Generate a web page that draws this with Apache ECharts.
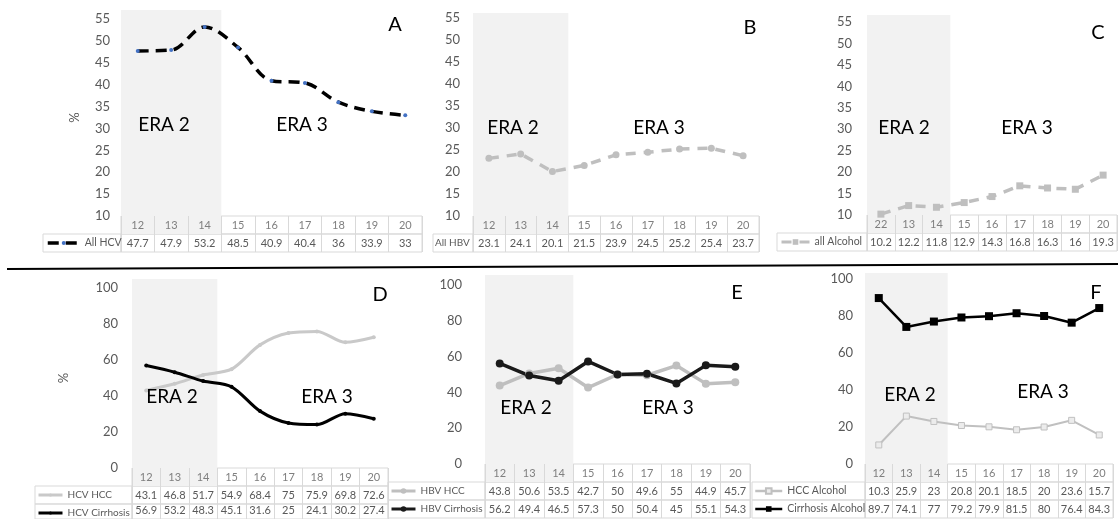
<!DOCTYPE html>
<html>
<head>
<meta charset="utf-8">
<script src="https://cdn.jsdelivr.net/npm/echarts@6/dist/echarts.min.js"></script>
<style>
  html, body { margin: 0; padding: 0; background: #fff; }
  #main { width: 1118px; height: 519px; }
</style>
</head>
<body>
<div id="main"></div>
<script>
  // years on the x axis (panel C has "22" printed in its header)
  var years = ['12', '13', '14', '15', '16', '17', '18', '19', '20'];
  var yearsC = ['22', '13', '14', '15', '16', '17', '18', '19', '20'];

  var allHCV = [47.7, 47.9, 53.2, 48.5, 40.9, 40.4, 36, 33.9, 33];
  var allHBV = [23.1, 24.1, 20.1, 21.5, 23.9, 24.5, 25.2, 25.4, 23.7];
  var allAlcohol = [10.2, 12.2, 11.8, 12.9, 14.3, 16.8, 16.3, 16, 19.3];
  var hcvHCC = [43.1, 46.8, 51.7, 54.9, 68.4, 75, 75.9, 69.8, 72.6];
  var hcvCirrhosis = [56.9, 53.2, 48.3, 45.1, 31.6, 25, 24.1, 30.2, 27.4];
  var hbvHCC = [43.8, 50.6, 53.5, 42.7, 50, 49.6, 55, 44.9, 45.7];
  var hbvCirrhosis = [56.2, 49.4, 46.5, 57.3, 50, 50.4, 45, 55.1, 54.3];
  var hccAlcohol = [10.3, 25.9, 23, 20.8, 20.1, 18.5, 20, 23.6, 15.7];
  var cirrhosisAlcohol = [89.7, 74.1, 77, 79.2, 79.9, 81.5, 80, 76.4, 84.3];

  var FONT = 'Lato';
  var BORDER = '#d9d9d9';
  var SHADE = '#f2f2f2';

  var grids = [], xAxes = [], yAxes = [], series = [], legends = [];

  function addGrid(g) {
    grids.push(g);
    return grids.length - 1;
  }

  function hiddenAxes(gi) {
    xAxes.push({ type: 'value', gridIndex: gi, show: false });
    yAxes.push({ type: 'value', gridIndex: gi, show: false });
  }

  function tableRow(p, top, h, labels, color) {
    var gi = addGrid({ left: p.x0, top: top, width: p.x1 - p.x0, height: h, show: true, borderColor: BORDER, borderWidth: 1 });
    xAxes.push({
      type: 'category', gridIndex: gi, data: p.cats,
      axisLine: { show: false }, axisTick: { show: false },
      splitLine: { show: true, interval: 0, lineStyle: { color: BORDER } },
      axisLabel: {
        inside: true, interval: 0, margin: h / 2, verticalAlign: 'middle',
        color: color, fontSize: 11, fontFamily: FONT,
        formatter: function (v, i) { return labels[i]; }
      }
    });
    yAxes.push({ type: 'value', gridIndex: gi, show: false });
  }

  function addPanel(p) {
    var shade = p.cats.map(function (c, i) { return i < 3 ? SHADE : 'rgba(0,0,0,0)'; });
    var headTop = p.yBot;
    var headBot = headTop + p.rowH;

    // era 2 shading behind plot and header cells
    var bg = addGrid({ left: p.x0, top: p.shadeTop, width: p.x1 - p.x0, height: headBot - p.shadeTop });
    xAxes.push({
      type: 'category', gridIndex: bg, data: p.cats, show: true,
      axisLine: { show: false }, axisTick: { show: false }, axisLabel: { show: false },
      splitArea: { show: true, interval: 0, areaStyle: { color: shade } }
    });
    yAxes.push({ type: 'value', gridIndex: bg, show: false });

    // plot area
    var pg = addGrid({ left: p.x0, top: p.yTop, width: p.x1 - p.x0, height: p.yBot - p.yTop });
    var xi = xAxes.length;
    xAxes.push({ type: 'category', gridIndex: pg, data: p.cats, boundaryGap: true, show: false });
    yAxes.push({
      type: 'value', gridIndex: pg, min: p.min, max: p.max, interval: p.interval,
      axisLine: { show: false }, axisTick: { show: false }, splitLine: { show: false },
      axisLabel: { color: '#595959', fontSize: 13, fontFamily: FONT, margin: p.margin },
      name: p.yName || '', nameLocation: 'middle', nameGap: p.nameGap || 0,
      nameTextStyle: { color: '#595959', fontSize: 13, fontFamily: FONT }
    });
    p.series.forEach(function (s) {
      s.type = 'line';
      s.xAxisIndex = xi;
      s.yAxisIndex = xi;
      s.z = 5;
      series.push(s);
    });

    // table: header row + one row per series
    tableRow(p, headTop, p.rowH, p.cats, '#7f7f7f');
    p.series.forEach(function (s, k) {
      var top = headBot + k * p.rowH;
      tableRow(p, top, p.rowH, s.data.map(String), '#595959');
      var lg = addGrid({ left: p.labelX, top: top, width: p.x0 - p.labelX, height: p.rowH, show: true, borderColor: BORDER, borderWidth: 1 });
      hiddenAxes(lg);
    });

    legends.push({
      data: p.series.map(function (s) { return s.name; }),
      orient: 'vertical', left: p.legendX, top: headBot + 3,
      itemWidth: p.iconW, itemHeight: p.iconH, itemGap: p.rowH - 12, padding: 0,
      icon: p.icon, selectedMode: false,
      lineStyle: { width: p.iconLine || 3 },
      textStyle: { color: '#595959', fontSize: p.legendFont || 10.5, fontFamily: FONT, lineHeight: 12 }
    });
  }

  addPanel({
    x0: 121, x1: 422, yTop: 19, yBot: 216, shadeTop: 10, labelX: 43, rowH: 18, margin: 11,
    min: 10, max: 55, interval: 5, cats: years, legendX: 46, iconW: 32, iconH: 5, iconLine: 3.5,
    yName: '%', nameGap: 40,
    series: [{
      name: 'All HCV', data: allHCV, smooth: 0.35, symbol: 'circle', symbolSize: 4,
      lineStyle: { color: '#000', width: 3.5, type: [11, 7] }, itemStyle: { color: '#4472c4' }
    }]
  });
  addPanel({
    x0: 473, x1: 759, yTop: 18, yBot: 216, shadeTop: 13, labelX: 433, rowH: 18, margin: 13,
    min: 10, max: 55, interval: 5, cats: years, legendX: 430, iconW: 0, iconH: 0, icon: 'none', legendFont: 10,
    series: [{
      name: 'All HBV', data: allHBV, symbol: 'circle', symbolSize: 7,
      lineStyle: { color: '#bfbfbf', width: 3.5, type: [10, 8] }, itemStyle: { color: '#bfbfbf' }
    }]
  });
  addPanel({
    x0: 867, x1: 1117, yTop: 22, yBot: 215, shadeTop: 15, labelX: 777, rowH: 18, margin: 15,
    min: 10, max: 55, interval: 5, cats: yearsC, legendX: 780, iconW: 28, iconH: 7, iconLine: 3,
    series: [{
      name: 'all Alcohol', data: allAlcohol, symbol: 'rect', symbolSize: 7,
      lineStyle: { color: '#bfbfbf', width: 3.5, type: [10, 8] }, itemStyle: { color: '#bfbfbf' }
    }]
  });
  addPanel({
    x0: 132, x1: 388, yTop: 288, yBot: 468, shadeTop: 279, labelX: 35, rowH: 18, margin: 14,
    min: 0, max: 100, interval: 20, cats: years, legendX: 37, iconW: 24, iconH: 4, iconLine: 3, legendFont: 10,
    yName: '%', nameGap: 62,
    series: [{
      name: 'HCV HCC', data: hcvHCC, smooth: 0.3, symbol: 'circle', symbolSize: 4,
      lineStyle: { color: '#c9c9c9', width: 3 }, itemStyle: { color: '#c9c9c9' }
    }, {
      name: 'HCV Cirrhosis', data: hcvCirrhosis, smooth: 0.3, symbol: 'circle', symbolSize: 4,
      lineStyle: { color: '#000', width: 3 }, itemStyle: { color: '#000' }
    }]
  });
  addPanel({
    x0: 485, x1: 750, yTop: 285, yBot: 464, shadeTop: 275, labelX: 388, rowH: 18, margin: 23,
    min: 0, max: 100, interval: 20, cats: years, legendX: 390, iconW: 24, iconH: 7, iconLine: 3, legendFont: 10,
    series: [{
      name: 'HBV HCC', data: hbvHCC, symbol: 'circle', symbolSize: 8,
      lineStyle: { color: '#bfbfbf', width: 3.5 }, itemStyle: { color: '#bfbfbf' }
    }, {
      name: 'HBV Cirrhosis', data: hbvCirrhosis, symbol: 'circle', symbolSize: 8,
      lineStyle: { color: '#1a1a1a', width: 3.5 }, itemStyle: { color: '#1a1a1a' }
    }]
  });
  addPanel({
    x0: 865, x1: 1113, yTop: 279, yBot: 464, shadeTop: 273, labelX: 752, rowH: 18, margin: 12,
    min: 0, max: 100, interval: 20, cats: years, legendX: 754, iconW: 27, iconH: 7, iconLine: 2.5,
    series: [{
      name: 'HCC Alcohol', data: hccAlcohol, symbol: 'rect', symbolSize: 6,
      lineStyle: { color: '#c0c0c0', width: 2 }, itemStyle: { color: '#ececec', borderColor: '#c0c0c0', borderWidth: 1 }
    }, {
      name: 'Cirrhosis Alcohol', data: cirrhosisAlcohol, symbol: 'rect', symbolSize: 8,
      lineStyle: { color: '#000', width: 2.5 }, itemStyle: { color: '#000' }
    }]
  });

  // era captions and panel letters
  var notes = [
    ['ERA 2', 164, 125], ['ERA 3', 302, 125], ['ERA 2', 513, 128], ['ERA 3', 659, 128],
    ['ERA 2', 904, 128], ['ERA 3', 1027, 128], ['ERA 2', 172, 397], ['ERA 3', 327, 397],
    ['ERA 2', 526, 408], ['ERA 3', 668, 408], ['ERA 2', 910, 395], ['ERA 3', 1043, 392]
  ];
  var letters = [['A', 395, 25], ['B', 750, 28], ['C', 1098, 33], ['D', 380, 295], ['E', 737, 293], ['F', 1096, 293]];

  var graphics = [{
    type: 'line', z: 10,
    shape: { x1: 7, y1: 269, x2: 1118, y2: 264 },
    style: { stroke: '#000', lineWidth: 2 }
  }];
  notes.concat(letters).forEach(function (t) {
    graphics.push({
      type: 'text', x: t[1], y: t[2], z: 10,
      style: { text: t[0], fill: '#000', fontSize: t[0].length > 1 ? 19 : 20, fontFamily: FONT, align: 'center', verticalAlign: 'middle' }
    });
  });

  var chart = echarts.init(document.getElementById('main'));
  chart.setOption({
    backgroundColor: '#fff',
    animation: false,
    grid: grids,
    xAxis: xAxes,
    yAxis: yAxes,
    legend: legends,
    series: series,
    graphic: graphics
  });
</script>
</body>
</html>
